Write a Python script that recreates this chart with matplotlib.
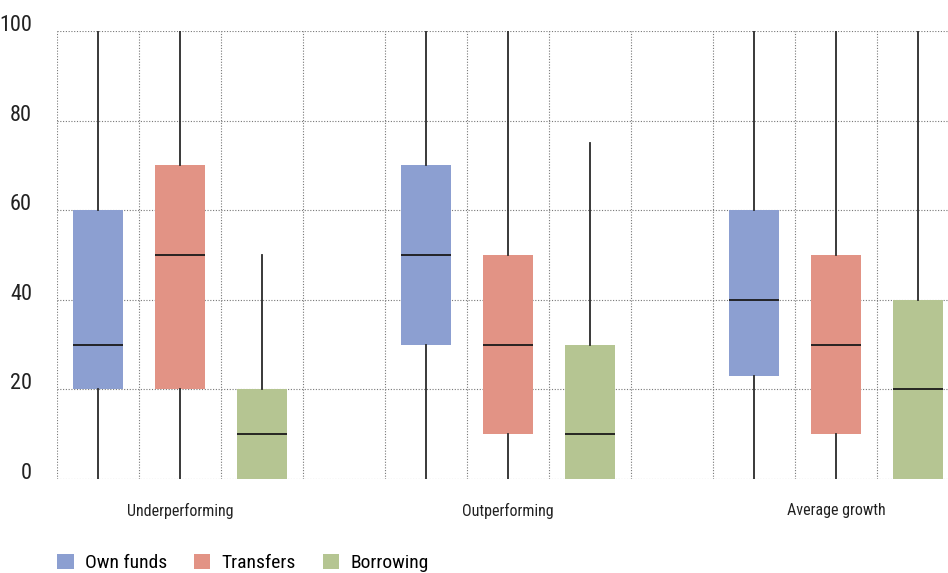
import matplotlib
matplotlib.use("Agg")
import matplotlib.pyplot as plt
from matplotlib.patches import Patch

plt.rcParams['font.family'] = ['Roboto Condensed', 'Liberation Sans Narrow', 'Roboto', 'DejaVu Sans']

# data
groups = ["Underperforming", "Outperforming", "Average growth"]
series = ["Own funds", "Transfers", "Borrowing"]
colors = ["#8c9fd1", "#e29385", "#b5c592"]

whislo = [[0, 0, 0], [0, 0, 0], [0, 0, 0]]
q1 = [[20, 20, 0], [30, 10, 0], [23, 10, 0]]
med = [[30, 50, 10], [50, 30, 10], [40, 30, 20]]
q3 = [[60, 70, 20], [70, 50, 30], [60, 50, 40]]
whishi = [[100, 100, 50], [100, 100, 75], [100, 100, 100]]

yticks = [0, 20, 40, 60, 80, 100]

W, H = 948, 573
fig = plt.figure(figsize=(W / 100, H / 100), dpi=100)
ax = fig.add_axes([57 / W, (H - 479) / H, (W - 57) / W, 448 / H])

slot = 4  # three boxes + one empty slot per group
for g in range(len(groups)):
    for s in range(len(series)):
        st = [dict(med=med[g][s], q1=q1[g][s], q3=q3[g][s],
                   whislo=whislo[g][s], whishi=whishi[g][s], fliers=[])]
        ax.bxp(st, positions=[g * slot + s + 0.5], widths=0.61,
               patch_artist=True, showcaps=False, showfliers=False,
               boxprops=dict(facecolor=colors[s], edgecolor="none"),
               medianprops=dict(color="#1a1a1a", linewidth=1.3),
               whiskerprops=dict(color="#2a2a2a", linewidth=1.3),
               manage_ticks=False, zorder=3)

ax.set_ylim(0, 100)
ax.set_xlim(0, (W - 57) / 82)
ax.set_yticks(yticks)
ax.set_yticklabels([str(v) for v in yticks], fontsize=16, va="baseline", color="#222222")
ax.tick_params(axis="y", length=0, pad=18)

ax.set_xticks(range(11))
ax.set_xticklabels([])
ax.set_xticks([g * slot + 1.5 for g in range(len(groups))], minor=True)
ax.set_xticklabels(groups, minor=True, fontsize=11.5, color="#222222")
ax.tick_params(axis="x", which="both", length=0)
ax.tick_params(axis="x", which="minor", pad=17)

ax.grid(True, linestyle=(0, (1, 1.5)), color="#777777", linewidth=0.8, zorder=0)
ax.set_axisbelow(True)
for sp in ax.spines.values():
    sp.set_visible(False)

handles = [Patch(facecolor=c, edgecolor="none") for c in colors]
fig.legend(handles, series, loc="center left", bbox_to_anchor=(57 / W, 1 - 563 / H),
           ncol=3, frameon=False, fontsize=14, handlelength=0.85, handleheight=0.85,
           handletextpad=0.6, columnspacing=1.35, borderaxespad=0, borderpad=0)

fig.savefig("out.png", dpi=100)
